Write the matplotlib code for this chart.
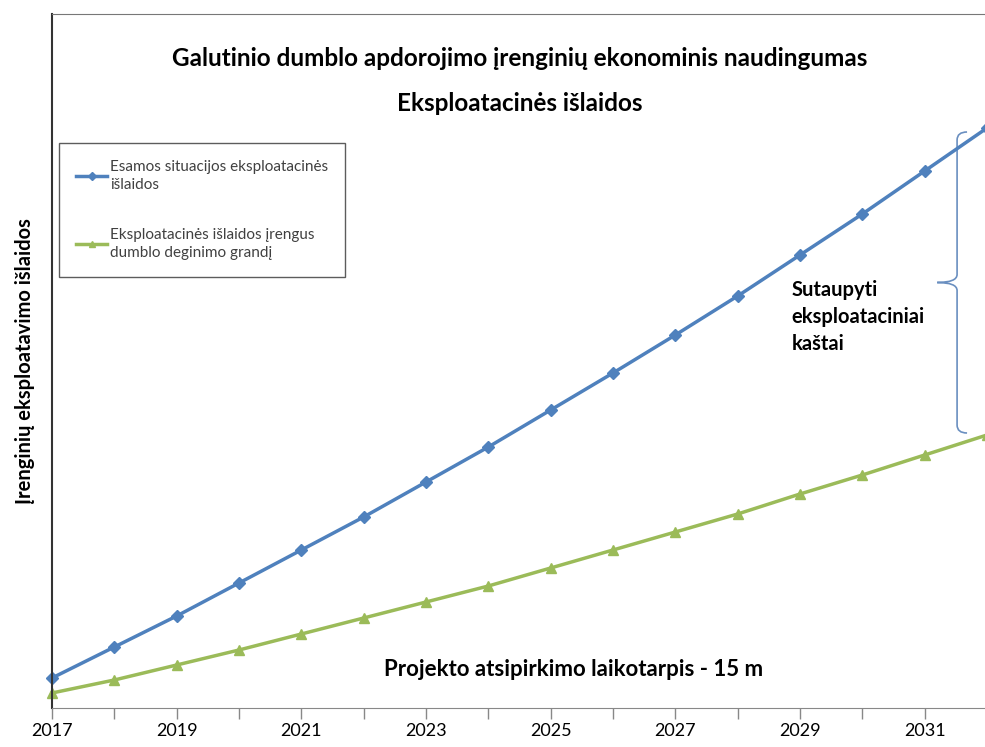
import matplotlib.pyplot as plt
from matplotlib.path import Path
from matplotlib.patches import PathPatch

plt.rcParams['font.family'] = ['Lato', 'DejaVu Sans']

years = list(range(2017, 2033))
tick_years = list(range(2017, 2032, 2))
# operating costs, current situation vs. with sludge incineration stage
current_costs = [30, 61, 92, 125, 158, 191, 226, 261, 298, 335, 373, 412, 453, 494, 537, 580]
new_costs = [15, 28, 43, 58, 74, 90, 106, 122, 140, 158, 176, 194, 214, 233, 253, 273]

current_label = "Esamos situacijos eksploatacinės\nišlaidos"
new_label = "Eksploatacinės išlaidos įrengus\ndumblo deginimo grandį"

fig = plt.figure(figsize=(9.85, 7.47), dpi=100)
ax = fig.add_axes([52 / 985, 39 / 747, 935 / 985, 694 / 747])

ax.plot(years, current_costs, color='#4F81BD', lw=2.5, marker='D', ms=6.5,
        label=current_label, clip_on=False)
ax.plot(years, new_costs, color='#9BBB59', lw=2.5, marker='^', ms=7.5,
        label=new_label, clip_on=False)

ax.set_xlim(2017, 2032)
ax.set_ylim(0, 694)
ax.set_yticks([])
ax.set_xticks(tick_years)
ax.set_xticks(years, minor=True)
ax.tick_params(axis='x', which='both', direction='out', length=8, width=1,
               color='#888888', labelsize=13, pad=3)
ax.spines['right'].set_visible(False)
ax.spines['left'].set_linewidth(1.5)
ax.spines['left'].set_color('#333333')
ax.spines['bottom'].set_color('#888888')
ax.spines['top'].set_color('#777777')

ax.set_ylabel("Įrenginių eksploatavimo išlaidos", fontsize=14.5, fontweight='bold',
              labelpad=12)

fig.text(0.528, 0.922, "Galutinio dumblo apdorojimo įrenginių ekonominis naudingumas",
         ha='center', va='center', fontsize=17.5, fontweight='bold')
fig.text(0.528, 0.862, "Eksploatacinės išlaidos", ha='center', va='center',
         fontsize=17.5, fontweight='bold')

leg = ax.legend(loc='upper left', bbox_to_anchor=(0.008, 0.814), fontsize=11,
                frameon=True, fancybox=False, edgecolor='#333333', borderpad=1.1,
                labelspacing=2.4, handlelength=2.0, handletextpad=0.2,
                markerscale=0.6, borderaxespad=0)
leg.get_frame().set_linewidth(1)
for t in leg.get_texts():
    t.set_color('#404040')
    t.set_linespacing(1.35)

# brace showing the saved operating costs at the end of the period
top = current_costs[-1] - 4
bot = new_costs[-1] + 2
mid = (top + bot) / 2
x0 = 2031.52
w = 0.16
tip = 0.32
r = 8
verts = [
    (x0 + w, top), (x0, top), (x0, top - r),
    (x0, mid + r),
    (x0, mid), (x0 - tip, mid),
    (x0, mid), (x0, mid - r),
    (x0, bot + r),
    (x0, bot), (x0 + w, bot),
]
codes = [Path.MOVETO, Path.CURVE3, Path.CURVE3, Path.LINETO,
         Path.CURVE3, Path.CURVE3, Path.CURVE3, Path.CURVE3,
         Path.LINETO, Path.CURVE3, Path.CURVE3]
ax.add_patch(PathPatch(Path(verts, codes), fill=False, edgecolor='#6a8fc0', lw=1.2))

ax.text(2028.86, 391, "Sutaupyti\neksploataciniai\nkaštai", ha='left', va='center',
        fontsize=14.5, fontweight='bold', linespacing=1.45)
ax.text(2025.36, 38, "Projekto atsipirkimo laikotarpis - 15 m", ha='center', va='center',
        fontsize=16, fontweight='bold')

fig.savefig('out.png', dpi=100)
